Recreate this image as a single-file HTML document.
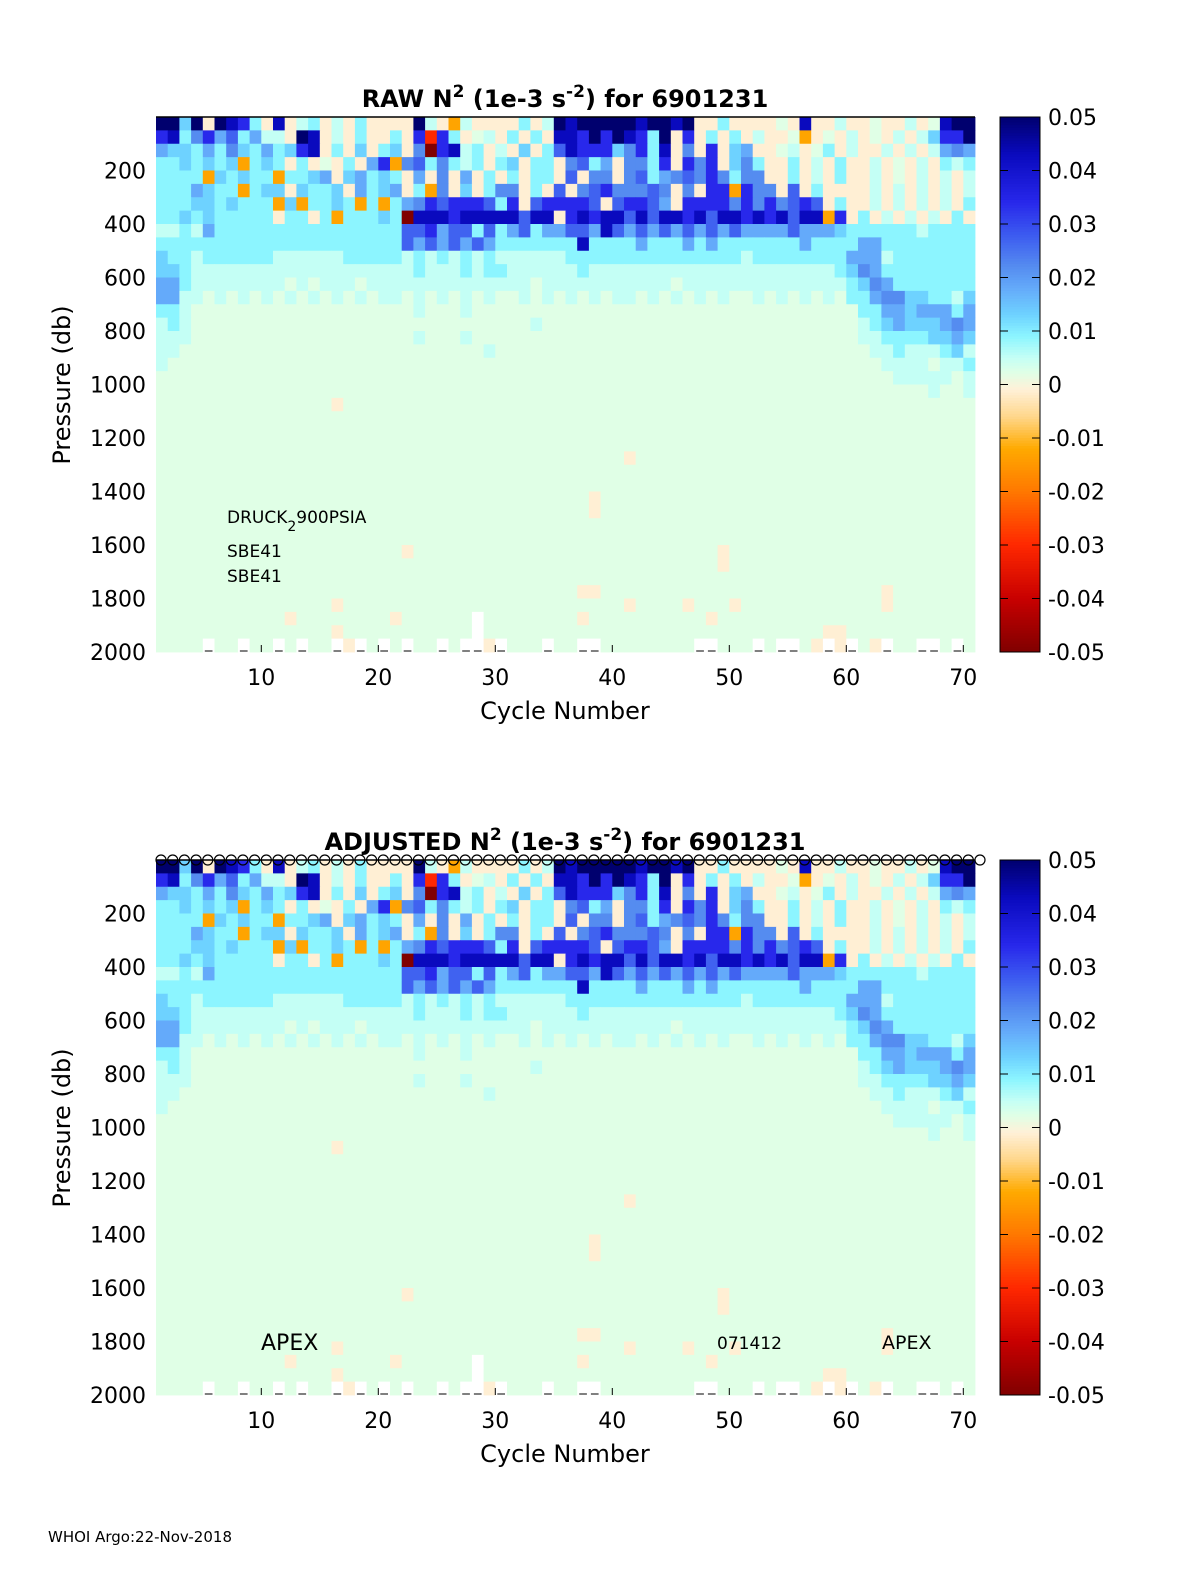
<!DOCTYPE html>
<html><head><meta charset="utf-8"><style>
html,body{margin:0;padding:0;background:#fff;overflow:hidden}
svg{display:block}
svg text{font-family:"DejaVu Sans","Liberation Sans",sans-serif;fill:#000}
</style></head><body>
<svg id="fig" width="1200" height="1575" viewBox="0 0 1200 1575" xmlns="http://www.w3.org/2000/svg">
<rect width="1200" height="1575" fill="#fff"/>
<g id="p1"></g>
<g id="p2"></g>
<text x="48" y="1542" font-size="15">WHOI Argo:22-Nov-2018</text>
</svg>
<script>
// Cycles 1..70, pressure rows of 50 db from 0 to 2000
const cycleCount = 70;
const xTicks = [10,20,30,40,50,60,70];
const yTicks = [200,400,600,800,1000,1200,1400,1600,1800,2000];
const cbTicks = [0.05,0.04,0.03,0.02,0.01,0,-0.01,-0.02,-0.03,-0.04,-0.05];
const cbLabels = ["0.05","0.04","0.03","0.02","0.01","0","-0.01","-0.02","-0.03","-0.04","-0.05"];
const rowStep = 50;
// code -> N2 value
const codes = {'.':0.0022,'1':0.005,'2':0.009,'3':0.013,'4':0.018,'5':0.022,'6':0.027,'7':0.034,'8':0.043,'9':0.05,'c':-0.0012,'a':-0.007,'o':-0.013,'r':-0.03,'d':-0.05};
const rowsRaw = [
"9939c9872c 8c12c1c2cc cc91co1ccc c2c1989999 989989cc2c ccc.c8cc1c c.cc1c.899",
"7825746241 1c98c1c2cc 2c7r72c.1c 2c2c887979 8729c7c2c2 c1cc.oc.c1 c.c1c13779",
"4332425324 2378c2c3c2 3c5d7812c1 c3c2687773 5728c5c7c3 4cc.1c.2c1 cc1c1c1454",
"2232323o23 2c2c.c2c47 o5625212c2 3c22c5624c 5527c757c3 52cc2c1c2c c1c.c1c212",
"2222o32322 o2234c3423 2c4c5c4c2c 2c22c6c55c 5624565752 55cc2c1c2c c1c.c1c1c1",
"2224322o23 3c3223c423 4c2o5c3c25 5c2c6c5675 5565c5c77o 755c6c2ccc c1c1c1c1c1",
"2223323222 o3o2232o2o 2457677762 7c677776c6 7764c77775 7575676c2c c1c1c1c1c2",
"2232322222 c22c2o2223 2d88878888 8688c78788 6868878688 7878688o7c 2c1c1c1c2c",
"1121422222 2222222222 2667466262 4624466486 4646464646 4444644432 2222212222",
"2222222222 2222222222 2646464642 2222228222 2422242422 2222242222 4422222222",
"3221222222 1111112222 2121212121 1111122222 2222222222 1222222224 4412222222",
"3321111111 1111111111 1121112122 1111112111 1111111111 1111111123 5422222222",
"4421111111 1.1.111.11 1111111111 11.1111111 1111.11111 1111111112 3542222222",
"4411.1.1.1 .1.1.1.1.1 1.1.1.1.1. .1.1.1.1.1 1.1.1.1.1. .1.1.1.1.2 2455332213",
"221....... .......... ..1...1... .......... .......... .......... 2244344424",
"121....... .......... .......... ..1....... .......... .......... 1234333454",
"111....... .......... ..1...1... .......... .......... .......... 1122223343",
"11........ .......... ........1. .......... .......... .......... .112111231",
"1......... .......... .......... .......... .......... .......... ..1111.112",
".......... .......... .......... .......... .......... .......... ...11111.1",
".......... .......... .......... .......... .......... .......... ......1..1",
".......... .....c.... .......... .......... .......... .......... ..........",
".......... .......... .......... .......... .......... .......... ..........",
".......... .......... .......... .......... .......... .......... ..........",
".......... .......... .......... .......... .......... .......... ..........",
".......... .......... .......... .......... c......... .......... ..........",
".......... .......... .......... .......... .......... .......... ..........",
".......... .......... .......... .......... .......... .......... ..........",
".......... .......... .......... .......c.. .......... .......... ..........",
".......... .......... .......... .......c.. .......... .......... ..........",
".......... .......... .......... .......... .......... .......... ..........",
".......... .......... .......... .......... .......... .......... ..........",
".......... .......... .c........ .......... ........c. .......... ..........",
".......... .......... .......... .......... ........c. .......... ..........",
".......... .......... .......... .......... .......... .......... ..........",
".......... .......... .......... ......cc.. .......... .......... ..c.......",
".......... .....c.... .......... .......... c....c...c .......... ..c.......",
".......... .c........ c......w.. ......c... .......c.. .......... ..........",
".......... .....c.... .......w.. .......... .......... .......cc. ..........",
"....w..w.. w.w..wcw.w .w..w.wwcw ...w..ww.. ......ww.. .w.ww.cwcw .cw..ww.w."
];
const rowsAdj = rowsRaw;

const stops = [[-0.05,[128,0,0]],[-0.04,[200,0,0]],[-0.03,[255,40,0]],[-0.02,[255,120,0]],[-0.012,[255,170,0]],[-0.006,[255,215,140]],[-0.001,[255,240,215]],[0.0022,[224,255,230]],[0.005,[196,255,245]],[0.009,[140,245,255]],[0.013,[110,210,255]],[0.018,[100,170,250]],[0.022,[85,140,240]],[0.028,[60,90,240]],[0.034,[40,40,235]],[0.043,[10,10,190]],[0.05,[0,0,110]]];
function cmap(v){
  if(v<=stops[0][0]) return 'rgb('+stops[0][1]+')';
  for(let i=1;i<stops.length;i++){
    if(v<=stops[i][0]){
      const a=stops[i-1],b=stops[i],t=(v-a[0])/(b[0]-a[0]);
      const c=a[1].map((x,k)=>Math.round(x+(b[1][k]-x)*t));
      return 'rgb('+c.join(',')+')';
    }
  }
  return 'rgb('+stops[stops.length-1][1]+')';
}
const NS='http://www.w3.org/2000/svg';
function el(tag,attrs,parent,txt){
  const e=document.createElementNS(NS,tag);
  for(const k in attrs) e.setAttribute(k,attrs[k]);
  if(txt!==undefined) e.textContent=txt;
  parent.appendChild(e);return e;
}
const X0=156,X1=975;
function drawPanel(g,top,rows,title,isAdj){
  const bot=top+535;
  const xs=c=>X0+(c-1)*(X1-X0)/70;
  const ys=p=>top+p*(bot-top)/2000;
  const cells=el('g',{},g);
  
  
  rows.forEach((r,ri)=>{
    const s=r.replace(/ /g,'');
    for(let ci=0;ci<cycleCount;ci++){
      const ch=s[ci]||'.';
      const x=xs(ci+1),y=ys(ri*rowStep),w=xs(ci+2)-x,h=ys((ri+1)*rowStep)-y;
      let fill = ch==='w' ? '#ffffff' : cmap(codes[ch]);
      const rc=el('rect',{x:x.toFixed(2),y:y.toFixed(2),width:(w+0.4).toFixed(2),height:(h+0.4).toFixed(2),fill:fill},cells);
      
      
      if(ch==='w'){
        const ln=el('line',{x1:x+2,x2:x+w-2,y1:bot-1,y2:bot-1,stroke:'#000','stroke-width':1},cells);
        
        
      }
    }
  });
  const tl=el('line',{x1:X0,x2:X1,y1:top,y2:top,stroke:'#000','stroke-width':1.5},g);
  
  
  xTicks.forEach(t=>{
    const tk=el('line',{x1:xs(t),x2:xs(t),y1:bot,y2:bot-7,stroke:'#000'},g);
    
    
    const tx=el('text',{x:xs(t),y:bot+33,'font-size':22,'text-anchor':'middle'},g,String(t));
    
    
  });
  yTicks.forEach(t=>{
    const tx=el('text',{x:146,y:ys(t)+8,'font-size':22,'text-anchor':'end'},g,String(t));
    
    
  });
  const xl=el('text',{x:565,y:bot+67,'font-size':24,'text-anchor':'middle'},g,'Cycle Number');
  
  
  const yl=el('text',{x:0,y:0,'font-size':24,'text-anchor':'middle',transform:'translate(70,'+(top+268)+') rotate(-90)'},g,'Pressure (db)');
  
  
  const tt=el('text',{x:565,y:top-10,'font-size':24,'font-weight':'bold','text-anchor':'middle'},g);
  
  
  tt.innerHTML=title+' N<tspan dy="-10" font-size="17">2</tspan><tspan dy="10"> (1e-3 s</tspan><tspan dy="-10" font-size="17">-2</tspan><tspan dy="10">) for 6901231</tspan>';
  const cb=el('g',{},g);
  
  
  const n=200;
  for(let i=0;i<n;i++){
    const v=0.05-0.1*(i+0.5)/n;
    el('rect',{x:1000,y:top+i*535/n,width:40,height:535/n+0.5,fill:cmap(v)},cb);
  }
  el('rect',{x:1000,y:top,width:40,height:535,fill:'none',stroke:'#000','stroke-width':1},cb);
  cbTicks.forEach((v,i)=>{
    const y=top+(0.05-v)/0.1*535;
    el('line',{x1:1032,x2:1040,y1:y,y2:y,stroke:'#000'},cb);
    el('line',{x1:1000,x2:1008,y1:y,y2:y,stroke:'#000'},cb);
    const tx=el('text',{x:1048,y:y+8,'font-size':22},cb,cbLabels[i]);
    
    
  });
  if(isAdj){
    const cg=el('g',{},g);
    
    
    for(let k=0;k<=70;k++){
      const c=el('circle',{cx:161+k*11.7,cy:top,r:5,fill:'none',stroke:'#000','stroke-width':1.2},cg);
      
      
    }
  }
}
const g1=document.getElementById('p1'),g2=document.getElementById('p2');
drawPanel(g1,117,rowsRaw,'RAW',false);
drawPanel(g2,860,rowsAdj,'ADJUSTED',true);
function note(g,x,y,size,html,name){
  const t=el('text',{x:x,y:y,'font-size':size},g);
  
  
  t.innerHTML=html;
}
note(g1,227,523,17,'DRUCK<tspan dy="8" font-size="14">2</tspan><tspan dy="-8">900PSIA</tspan>','pressure-sensor-label');
note(g1,227,557,17,'SBE41','ctd-sensor-label');
note(g1,227,582,17,'SBE41','ctd-sensor-label-2');
note(g2,261,1350,22,'APEX','float-type-label');
note(g2,717,1349,17,'071412','float-serial-label');
note(g2,882,1349,19,'APEX','float-type-label-2');
</script>
</body></html>
